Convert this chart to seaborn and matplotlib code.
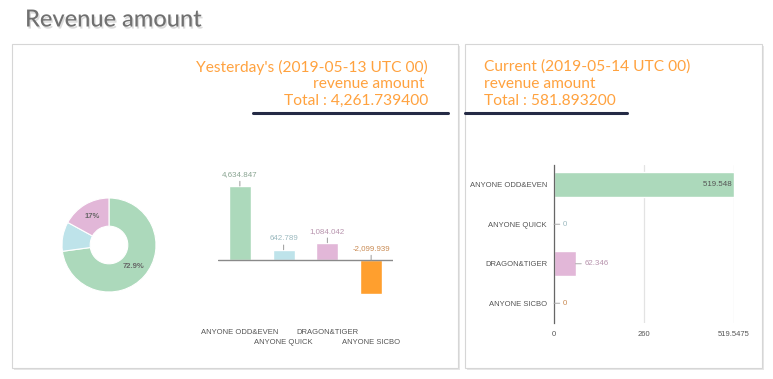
import numpy as np
import pandas as pd
import matplotlib
matplotlib.use("Agg")
import matplotlib.pyplot as plt
import seaborn as sns
from matplotlib.patches import Rectangle
from matplotlib.transforms import blended_transform_factory
import matplotlib.patheffects as pe

# ---------------- data ----------------
categories = ["ANYONE ODD&EVEN", "ANYONE QUICK", "DRAGON&TIGER", "ANYONE SICBO"]
yesterday = [4634.847, 642.789, 1084.042, -2099.939]
yesterday_labels = ["4,634.847", "642.789", "1,084.042", "-2,099.939"]
current = [519.548, 0, 62.346, 0]
current_labels = ["519.548", "0", "62.346", "0"]
x_ticks = [0, 260, 519.5475]
x_tick_labels = ["0", "260", "519.5475"]
pie_values = yesterday[:3]
left_title = ["Yesterday's (2019-05-13 UTC 00)", "revenue amount ", "Total : 4,261.739400"]
right_title = ["Current (2019-05-14 UTC 00)", "revenue amount", "Total : 581.893200"]
page_title = "Revenue amount"

colors = ["#acd9bb", "#bee3ea", "#e2b7d8", "#ff9f2e"]
label_colors = ["#8aa592", "#9bb9bf", "#b793ad", "#c98a52"]
orange = "#ffa23f"
navy = "#242a45"

sns.set_theme(style="white")
plt.rcParams["font.family"] = ["Liberation Sans", "DejaVu Sans"]

W, H = 773, 379
fig = plt.figure(figsize=(W / 100, H / 100), dpi=100)
fig.patch.set_facecolor("white")


def ax_px(x0, y0, x1, y1):
    return fig.add_axes([x0 / W, 1 - y1 / H, (x1 - x0) / W, (y1 - y0) / H])


def fx(x):
    return x / W


def fy(y):
    return 1 - y / H


# ---------------- panels ----------------
for (x0, y0, x1, y1) in [(12, 44, 458, 368), (465, 44, 762, 368)]:
    fig.patches.append(Rectangle((fx(x0 + 1.5), fy(y1 + 1.5)), (x1 - x0) / W, (y1 - y0) / H,
                                 transform=fig.transFigure, fc="#e6e6e6", ec="none", zorder=-3))
    fig.patches.append(Rectangle((fx(x0), fy(y1)), (x1 - x0) / W, (y1 - y0) / H,
                                 transform=fig.transFigure, fc="white", ec="#d6d6d6", lw=0.8, zorder=-2))

# page title
fig.text(fx(25), fy(19), page_title, fontsize=17, color="#707070", family=["Lato", "DejaVu Sans"],
         ha="left", va="center", fontweight="medium",
         path_effects=[pe.withSimplePatchShadow(offset=(1, -1.5), shadow_rgbFace="#999999", alpha=0.35)])

# panel titles
for i, line in enumerate(left_title):
    fig.text(fx(428), fy(67 + 17 * i), line, fontsize=11.2, color=orange, family=["Lato", "DejaVu Sans"],
             ha="right", va="center")
for i, line in enumerate(right_title):
    fig.text(fx(484), fy(67 + 17 * i), line, fontsize=11.2, color=orange, family=["Lato", "DejaVu Sans"],
             ha="left", va="center")

# navy underlines
fig.add_artist(plt.Line2D([fx(253), fx(448)], [fy(113), fy(113)], color=navy, lw=2.2,
                          transform=fig.transFigure))
fig.add_artist(plt.Line2D([fx(465), fx(627)], [fy(113), fy(113)], color=navy, lw=2.2,
                          transform=fig.transFigure))

# ---------------- donut ----------------
axp = ax_px(109 - 47, 245 - 47, 109 + 47, 245 + 47)


def pct_fmt(p):
    return f"{round(p, 1):g}%" if p > 12 else ""


wedges, texts, autotexts = axp.pie(pie_values, colors=colors[:3], startangle=90, counterclock=False,
                                   radius=1, autopct=pct_fmt, pctdistance=0.7,
                                   wedgeprops=dict(width=0.6, edgecolor="white", linewidth=0.8),
                                   textprops=dict(fontsize=5.5, color="#666666", fontweight="bold"))
axp.set_xlim(-1, 1)
axp.set_ylim(-1, 1)
axp.set_aspect("equal")
axp.axis("off")

# ---------------- vertical bars (yesterday) ----------------
axb = ax_px(218, 160, 393, 300)
df_y = pd.DataFrame({"category": categories, "value": yesterday})
sns.barplot(data=df_y, x="category", y="value", hue="category", palette=colors, width=0.5,
            saturation=1, legend=False, ax=axb)
axb.set_xlim(-0.5, 3.5)
scale = 4634.847 / 74.0
axb.set_ylim(-(300 - 260) * scale, (260 - 160) * scale)
axb.axis("off")
axb.axhline(0, color="#8a8a8a", lw=1)
for i, (v, lab) in enumerate(zip(yesterday, yesterday_labels)):
    axb.annotate(lab, xy=(i, max(v, 0)), xytext=(0, 8), textcoords="offset pixels",
                 ha="center", va="bottom", fontsize=5.7, color=label_colors[i],
                 arrowprops=dict(arrowstyle="-", color="#999999", lw=0.7, shrinkA=0, shrinkB=0))
trans = blended_transform_factory(axb.transData, fig.transFigure)
for i, cat in enumerate(categories):
    ypix = 332 if i % 2 == 0 else 343
    axb.text(i, fy(ypix), cat, transform=trans, ha="center", va="center", fontsize=5.5,
             color="#555555", clip_on=False)

# ---------------- horizontal bars (current) ----------------
axh = ax_px(554, 165, 734, 323)
df_c = pd.DataFrame({"category": categories, "value": current})
sns.barplot(data=df_c, y="category", x="value", hue="category", palette=colors, orient="h",
            width=0.63, saturation=1, legend=False, ax=axh)
axh.set_xlim(0, 519.5475 * 1.002)
axh.set_ylim(3.5, -0.5)
axh.set_xticks(x_ticks)
axh.set_xticklabels(x_tick_labels)
axh.set_xlabel("")
axh.set_ylabel("")
axh.tick_params(axis="both", length=0, labelsize=5.5, labelcolor="#555555")
axh.tick_params(axis="x", pad=6)
axh.tick_params(axis="y", pad=5)
for s in ["top", "right", "bottom"]:
    axh.spines[s].set_visible(False)
axh.spines["left"].set_color("#666666")
axh.spines["left"].set_linewidth(0.9)
axh.xaxis.grid(True, color="#e3e3e3", lw=0.9)
axh.yaxis.grid(False)
axh.set_axisbelow(True)
for i, (v, lab) in enumerate(zip(current, current_labels)):
    if v > 400:
        axh.text(v, i, lab + " ", ha="right", va="center", fontsize=5.7, color="#555555")
    else:
        axh.annotate(lab, xy=(v, i), xytext=(9, 0), textcoords="offset pixels",
                     ha="left", va="center", fontsize=5.7, color=label_colors[i],
                     arrowprops=dict(arrowstyle="-", color="#aaaaaa", lw=0.7, shrinkA=0, shrinkB=0))

fig.savefig("out.png", dpi=100, facecolor="white")
